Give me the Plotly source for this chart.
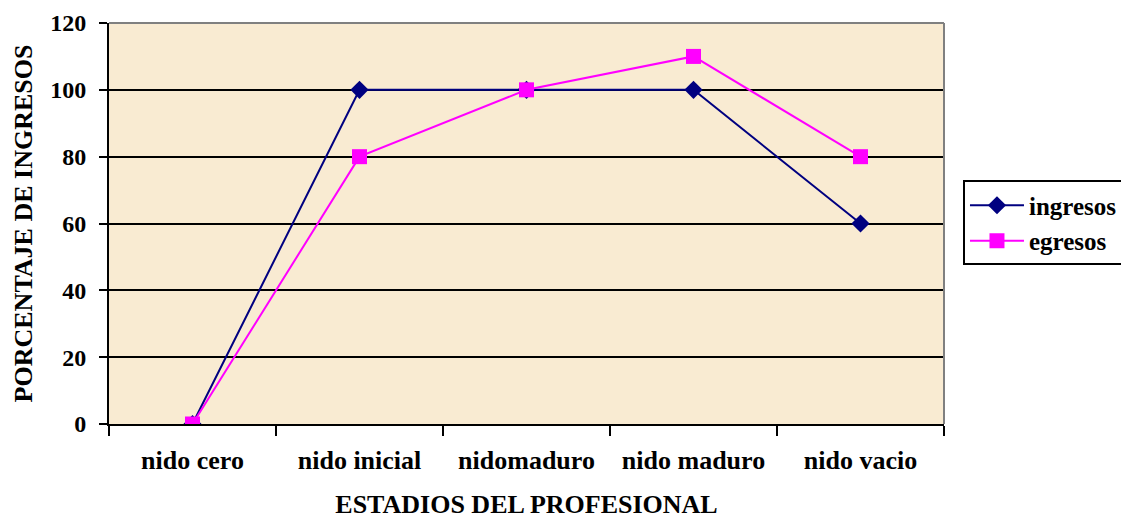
import plotly.graph_objects as go

categories = ["nido cero", "nido inicial", "nidomaduro", "nido maduro", "nido vacio"]
ingresos = [0, 100, 100, 100, 60]
egresos = [0, 80, 100, 110, 80]
y_ticks = [0, 20, 40, 60, 80, 100, 120]

font_family = "Liberation Serif, Times New Roman, serif"

fig = go.Figure()
fig.add_trace(go.Scatter(
    x=categories, y=ingresos, name="ingresos", mode="lines+markers",
    line=dict(color="#000080", width=2),
    marker=dict(symbol="diamond", size=14, color="#000080"),
))
fig.add_trace(go.Scatter(
    x=categories, y=egresos, name="egresos", mode="lines+markers",
    line=dict(color="#FF00FF", width=2),
    marker=dict(symbol="square", size=15, color="#FF00FF"),
))

fig.update_layout(
    width=1121, height=511,
    margin=dict(l=101, r=185, t=15, b=95),
    paper_bgcolor="white",
    plot_bgcolor="#F9EBD2",
    font=dict(family=font_family, size=24, color="black", weight="bold"),
    showlegend=True,
    legend=dict(
        xref="container", yref="container",
        x=0.8519, y=0.5793, xanchor="left", yanchor="middle",
        bgcolor="white", bordercolor="black", borderwidth=2,
        font=dict(family=font_family, size=25, color="black", weight="bold"),
        itemwidth=54, tracegroupgap=0,
    ),
    shapes=[
        dict(type="line", xref="paper", yref="paper", x0=0, x1=1, y0=1, y1=1,
             line=dict(color="#808080", width=2), layer="above"),
        dict(type="line", xref="paper", yref="paper", x0=1, x1=1, y0=0, y1=1,
             line=dict(color="#808080", width=2), layer="above"),
    ],
)

fig.update_xaxes(
    type="category", tickson="boundaries", range=[-0.5, 4.5],
    ticks="outside", ticklen=10, tickwidth=2, tickcolor="black",
    showline=True, linecolor="black", linewidth=2,
    showgrid=False, automargin=False,
    ticklabelstandoff=12,
    tickfont=dict(family=font_family, size=26, color="black", weight="bold"),
    title=dict(text="ESTADIOS DEL PROFESIONAL", standoff=22,
               font=dict(family=font_family, size=26, color="black", weight="bold")),
)
fig.update_yaxes(
    range=[0, 120], tickvals=y_ticks,
    ticks="outside", ticklen=8, tickwidth=2, tickcolor="black",
    showline=True, linecolor="black", linewidth=2,
    showgrid=True, gridcolor="black", gridwidth=2,
    zeroline=False, automargin=False,
    ticklabelstandoff=8,
    tickfont=dict(family=font_family, size=24, color="black", weight="bold"),
    title=dict(text="PORCENTAJE DE INGRESOS", standoff=10,
               font=dict(family=font_family, size=26, color="black", weight="bold")),
)

fig.write_html("out.html")
